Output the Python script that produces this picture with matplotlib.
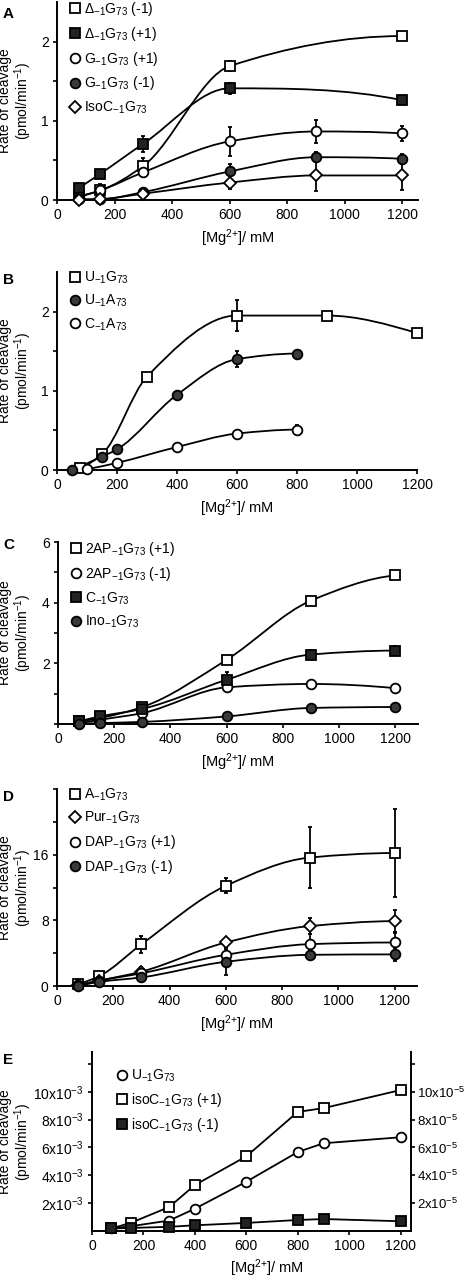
import numpy as np
import matplotlib
matplotlib.use("Agg")
import matplotlib.pyplot as plt
from matplotlib.path import Path
from matplotlib.patches import PathPatch

plt.rcParams['font.family'] = ['Liberation Sans', 'DejaVu Sans']
plt.rcParams['mathtext.default'] = 'regular'
plt.rcParams['mathtext.fontset'] = 'custom'
plt.rcParams['mathtext.rm'] = 'Liberation Sans'
plt.rcParams['font.size'] = 10

# ---- data: panel A ----
a_x5 = [75, 150, 300, 600, 1200]
a_x6 = [75, 150, 300, 600, 900, 1200]
a_dm1 = [0.05, 0.12, 0.43, 1.69, 2.07]
a_dm1_err = [0.02, 0.05, 0.1, 0.06, 0.04]
a_dp1 = [0.15, 0.33, 0.71, 1.41, 1.26]
a_dp1_err = [0.03, 0.02, 0.1, 0.07, 0.05]
a_gp1 = [0.04, 0.12, 0.35, 0.74, 0.865, 0.84]
a_gp1_err = [0.02, 0.08, 0.05, 0.18, 0.15, 0.1]
a_gm1 = [0.01, 0.01, 0.1, 0.36, 0.54, 0.52]
a_gm1_err = [0.0, 0.0, 0.03, 0.1, 0.06, 0.06]
a_iso = [0.0, 0.01, 0.08, 0.22, 0.31, 0.31]
a_iso_err = [0.0, 0.02, 0.03, 0.08, 0.2, 0.18]

# ---- panel B ----
b_ug_x = [75, 150, 300, 600, 900, 1200]
b_ug = [0.03, 0.2, 1.18, 1.95, 1.95, 1.73]
b_ug_err = [0.0, 0.03, 0.03, 0.2, 0.03, 0.02]
b_ua_x = [50, 150, 200, 400, 600, 800]
b_ua = [0.0, 0.17, 0.26, 0.95, 1.4, 1.47]
b_ua_err = [0.0, 0.0, 0.02, 0.02, 0.1, 0.02]
b_ca_x = [100, 200, 400, 600, 800]
b_ca = [0.01, 0.09, 0.29, 0.46, 0.51]
b_ca_err = [0.0, 0.02, 0.02, 0.03, 0.06]

# ---- panel C ----
c_x = [75, 150, 300, 600, 900, 1200]
c_2ap_p1 = [0.09, 0.2, 0.56, 2.12, 4.07, 4.9]
c_2ap_p1_err = [0.02, 0.03, 0.05, 0.08, 0.08, 0.08]
c_2ap_m1 = [0.03, 0.14, 0.36, 1.21, 1.32, 1.18]
c_2ap_m1_err = [0.01, 0.02, 0.04, 0.06, 0.05, 0.05]
c_c = [0.09, 0.25, 0.5, 1.46, 2.29, 2.42]
c_c_err = [0.02, 0.03, 0.05, 0.25, 0.15, 0.15]
c_ino = [0.01, 0.03, 0.07, 0.25, 0.53, 0.56]
c_ino_err = [0.0, 0.0, 0.01, 0.03, 0.1, 0.1]

# ---- panel D ----
d_x = [75, 150, 300, 600, 900, 1200]
d_a = [0.25, 1.2, 5.08, 12.2, 15.65, 16.2]
d_a_err = [0.1, 0.3, 1.0, 0.9, 3.7, 5.4]
d_pur = [0.1, 0.65, 1.75, 5.3, 7.3, 7.9]
d_pur_err = [0.0, 0.1, 0.6, 0.5, 1.0, 1.3]
d_dp1 = [0.1, 0.65, 1.55, 3.8, 5.1, 5.3]
d_dp1_err = [0.0, 0.1, 0.3, 0.4, 1.2, 1.2]
d_dm1 = [0.0, 0.5, 1.05, 2.95, 3.8, 3.85]
d_dm1_err = [0.0, 0.1, 0.2, 1.6, 0.6, 0.8]

# ---- panel E ----
e_x = [75, 150, 300, 400, 600, 800, 900, 1200]
e_u = [0.18e-3, 0.34e-3, 0.75e-3, 1.6e-3, 3.54e-3, 5.67e-3, 6.3e-3, 6.73e-3]
e_iso_p1 = [0.18e-5, 0.58e-5, 1.72e-5, 3.3e-5, 5.36e-5, 8.55e-5, 8.82e-5, 10.12e-5]
e_iso_m1 = [0.18e-5, 0.22e-5, 0.3e-5, 0.41e-5, 0.58e-5, 0.79e-5, 0.86e-5, 0.7e-5]

x_ticks = [0, 200, 400, 600, 800, 1000, 1200]

OPEN_SQ = dict(marker='s', ms=6.5, mfc='white')
FILL_SQ = dict(marker='s', ms=6.5, mfc='#222222')
OPEN_CI = dict(marker='o', ms=7, mfc='white')
FILL_CI = dict(marker='o', ms=7, mfc='#3a3a3a')
OPEN_DI = dict(marker='D', ms=6.5, mfc='white')


def pchip_tangents(x, y):
    h = np.diff(x)
    d = np.diff(y) / h
    n = len(x)
    m = np.zeros(n)
    for k in range(1, n - 1):
        if d[k - 1] * d[k] > 0:
            w1 = 2 * h[k] + h[k - 1]
            w2 = h[k] + 2 * h[k - 1]
            m[k] = (w1 + w2) / (w1 / d[k - 1] + w2 / d[k])
    def end(h0, h1, d0, d1):
        v = ((2 * h0 + h1) * d0 - h0 * d1) / (h0 + h1)
        if np.sign(v) != np.sign(d0):
            return 0.0
        if np.sign(d0) != np.sign(d1) and abs(v) > abs(3 * d0):
            return 3 * d0
        return v
    m[0] = end(h[0], h[1], d[0], d[1])
    m[-1] = end(h[-1], h[-2], d[-1], d[-2])
    return m


def smooth_path(x, y):
    x = np.asarray(x, float)
    y = np.asarray(y, float)
    m = pchip_tangents(x, y)
    verts = [(x[0], y[0])]
    codes = [Path.MOVETO]
    for i in range(len(x) - 1):
        dx = (x[i + 1] - x[i]) / 3
        verts += [(x[i] + dx, y[i] + m[i] * dx),
                  (x[i + 1] - dx, y[i + 1] - m[i + 1] * dx),
                  (x[i + 1], y[i + 1])]
        codes += [Path.CURVE4] * 3
    return Path(verts, codes)


def series(ax, x, y, err, style, label, smooth=True):
    if smooth:
        ax.add_patch(PathPatch(smooth_path(x, y), fill=False, lw=1.3,
                               ec='black', zorder=2))
    else:
        ax.plot(x, y, '-', color='black', lw=1.3, zorder=2)
    if err is not None:
        ax.errorbar(x, y, yerr=err, fmt='none', ecolor='black',
                    elinewidth=1.3, capsize=1.5, capthick=1.3, zorder=2.5)
    ax.plot(x, y, ls='none', mec='black', mew=1.3, label=label,
            zorder=3, clip_on=False, **style)


def style_axes(ax, fig):
    ax.spines['top'].set_visible(False)
    ax.spines['right'].set_visible(False)
    for s in ('left', 'bottom'):
        ax.spines[s].set_linewidth(1.4)
    ax.tick_params(direction='out', length=3, width=1.2, labelsize=10, pad=3)
    ax.set_xticks(x_ticks)
    ax.set_xlabel('[Mg$^{2{+}}$]/ mM', fontsize=10.5, labelpad=4)
    ax.set_ylabel('Rate of cleavage\n(pmol/min$^{-1}$)', fontsize=10,
                  linespacing=1.0)
    pos = ax.get_position()
    ax.yaxis.set_label_coords(34 / 466, pos.y0 + pos.height / 2,
                              transform=fig.transFigure)
    ax.legend(loc='upper left', bbox_to_anchor=(0.02, 1.04),
              frameon=False, fontsize=10, handlelength=0.8,
              handletextpad=0.25, labelspacing=0.5, borderaxespad=0)


def letter(fig, txt, px, py):
    fig.text(px / 466, 1 - py / 1280, txt, fontsize=11, fontweight='bold',
             va='center', ha='left')


fig = plt.figure(figsize=(4.66, 12.8), dpi=100)

def axes_px(l, t, r, b):
    return fig.add_axes([l / 466, 1 - b / 1280, (r - l) / 466, (b - t) / 1280])

# Panel A
ax = axes_px(57, 2, 418, 200)
series(ax, a_x5, a_dm1, a_dm1_err, OPEN_SQ, r'$\Delta_{-1}$G$_{73}$ (-1)')
series(ax, a_x5, a_dp1, a_dp1_err, FILL_SQ, r'$\Delta_{-1}$G$_{73}$ (+1)')
series(ax, a_x6, a_gp1, a_gp1_err, OPEN_CI, r'G$_{-1}$G$_{73}$ (+1)')
series(ax, a_x6, a_gm1, a_gm1_err, FILL_CI, r'G$_{-1}$G$_{73}$ (-1)')
series(ax, a_x6, a_iso, a_iso_err, OPEN_DI, r'IsoC$_{-1}$G$_{73}$')
ax.set_xlim(0, 1255)
ax.set_ylim(0, 2.5)
ax.set_yticks([0, 0.5, 1, 1.5, 2])
ax.set_yticklabels(['0', '', '1', '', '2'])
style_axes(ax, fig)
letter(fig, 'A', 3, 14)

# Panel B
ax = axes_px(57, 272, 417, 470)
series(ax, b_ug_x, b_ug, b_ug_err, OPEN_SQ, r'U$_{-1}$G$_{73}$')
series(ax, b_ua_x, b_ua, b_ua_err, FILL_CI, r'U$_{-1}$A$_{73}$')
series(ax, b_ca_x, b_ca, b_ca_err, OPEN_CI, r'C$_{-1}$A$_{73}$')
ax.set_xlim(0, 1200)
ax.set_ylim(0, 2.5)
ax.set_yticks([0, 0.5, 1, 1.5, 2])
ax.set_yticklabels(['0', '', '1', '', '2'])
style_axes(ax, fig)
letter(fig, 'B', 3, 280)

# Panel C
ax = axes_px(58, 542, 418, 724)
series(ax, c_x, c_2ap_p1, c_2ap_p1_err, OPEN_SQ, r'2AP$_{-1}$G$_{73}$ (+1)')
series(ax, c_x, c_2ap_m1, c_2ap_m1_err, OPEN_CI, r'2AP$_{-1}$G$_{73}$ (-1)')
series(ax, c_x, c_c, c_c_err, FILL_SQ, r'C$_{-1}$G$_{73}$')
series(ax, c_x, c_ino, c_ino_err, FILL_CI, r'Ino$_{-1}$G$_{73}$')
ax.set_xlim(0, 1280)
ax.set_ylim(0, 6)
ax.set_yticks([0, 1, 2, 3, 4, 5, 6])
ax.set_yticklabels(['', '', '2', '', '4', '', '6'])
style_axes(ax, fig)
letter(fig, 'C', 3, 545)

# Panel D
ax = axes_px(57, 789, 417, 986)
series(ax, d_x, d_a, d_a_err, OPEN_SQ, r'A$_{-1}$G$_{73}$')
series(ax, d_x, d_pur, d_pur_err, OPEN_DI, r'Pur$_{-1}$G$_{73}$')
series(ax, d_x, d_dp1, d_dp1_err, OPEN_CI, r'DAP$_{-1}$G$_{73}$ (+1)')
series(ax, d_x, d_dm1, d_dm1_err, FILL_CI, r'DAP$_{-1}$G$_{73}$ (-1)')
ax.set_xlim(0, 1280)
ax.set_ylim(0, 24)
ax.set_yticks([0, 4, 8, 12, 16, 20, 24])
ax.set_yticklabels(['0', '', '8', '', '16', '', ''])
style_axes(ax, fig)
letter(fig, 'D', 3, 797)

# Panel E
ax = axes_px(92, 1052, 411, 1231)
ax2 = ax.twinx()
series(ax, e_x, e_u, None, OPEN_CI, r'U$_{-1}$G$_{73}$', smooth=False)
series(ax2, e_x, e_iso_p1, None, OPEN_SQ, r'isoC$_{-1}$G$_{73}$ (+1)', smooth=False)
series(ax2, e_x, e_iso_m1, None, FILL_SQ, r'isoC$_{-1}$G$_{73}$ (-1)', smooth=False)
ax.set_xlim(0, 1240)
ax.set_ylim(0, 12.85e-3)
ax2.set_ylim(0, 12.85e-5)
ax.set_yticks([2e-3, 4e-3, 6e-3, 8e-3, 10e-3, 12e-3])
ax.set_yticklabels(['%dx10$^{-3}$' % v for v in (2, 4, 6, 8, 10)] + [''])
ax2.set_yticks([2e-5, 4e-5, 6e-5, 8e-5, 10e-5, 12e-5])
ax2.set_yticklabels(['%dx10$^{-5}$' % v for v in (2, 4, 6, 8, 10)] + [''])
style_axes(ax, fig)
ax.xaxis.set_label_coords(0.55, -0.15, transform=ax.transAxes)
ax.xaxis.label.set_va('top')
ax.get_legend().remove()
ax2.spines['top'].set_visible(False)
ax2.spines['right'].set_linewidth(1.4)
ax2.spines['left'].set_visible(False)
ax2.spines['bottom'].set_visible(False)
ax2.tick_params(direction='out', length=3, width=1.2, labelsize=9.5, pad=1.5)
h1, l1 = ax.get_legend_handles_labels()
h2, l2 = ax2.get_legend_handles_labels()
ax2.legend(h1 + h2, l1 + l2, loc='upper left', bbox_to_anchor=(0.06, 0.945),
           frameon=False, fontsize=10, handlelength=0.8, handletextpad=0.25,
           labelspacing=0.5, borderaxespad=0)
letter(fig, 'E', 3, 1060)

fig.savefig('out.png', dpi=100)
